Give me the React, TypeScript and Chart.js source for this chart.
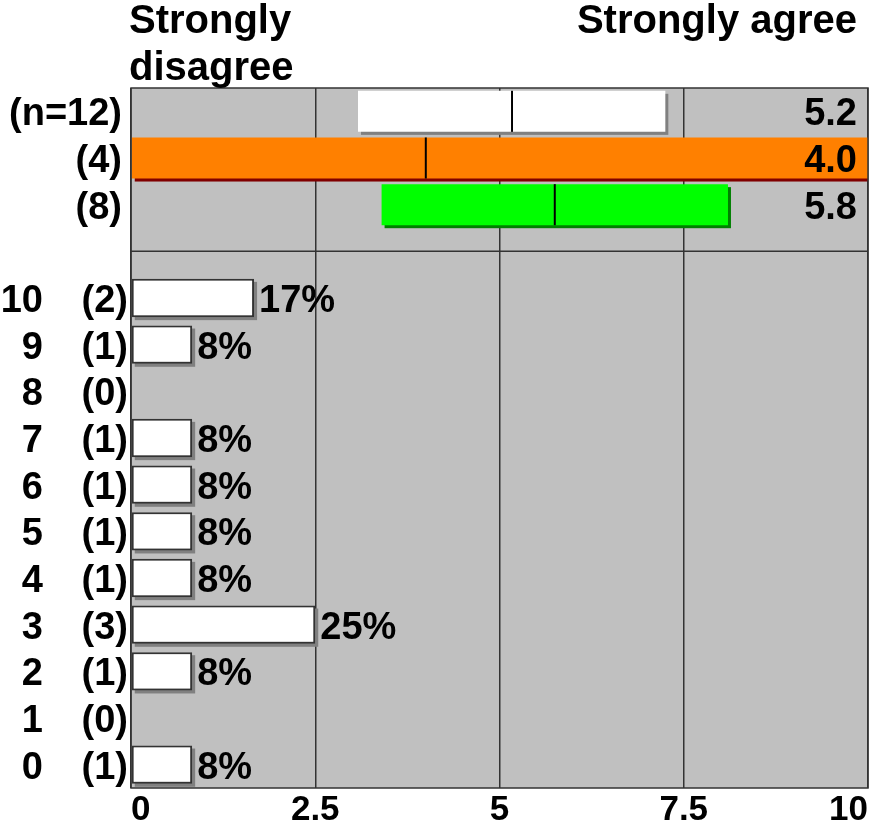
import React, { useEffect, useRef } from "react";
import { Chart, registerables } from "chart.js";

Chart.register(...registerables);

// ---- data ----
const groupLabels = ["(n=12)", "(4)", "(8)"];
const groupLow = [3.08, 0, 3.4];
const groupHigh = [7.25, 10, 8.1];
const groupMean = [5.17, 4.0, 5.75];
const groupMeanText = ["5.2", "4.0", "5.8"];
const groupColors = ["#ffffff", "#ff8000", "#00ff00"];
const groupShadows = ["#808080", "#800000", "#008000"];

const scaleValues = ["10", "9", "8", "7", "6", "5", "4", "3", "2", "1", "0"];
const scaleCounts = [2, 1, 0, 1, 1, 1, 1, 3, 1, 0, 1];
const scalePercents = [16.7, 8.3, 0, 8.3, 8.3, 8.3, 8.3, 25, 8.3, 0, 8.3];
const percentLabels = ["17%", "8%", "", "8%", "8%", "8%", "8%", "25%", "8%", "", "8%"];

const xMin = 0;
const xMax = 10;
const xStep = 2.5;
const leftTitle = ["Strongly", "disagree"];
const rightTitle = "Strongly agree";

const FONT = '"Liberation Sans", Arial, sans-serif';
const nGroups = groupLabels.length;
const rowLabels = [...groupLabels, "", ...scaleValues];
const dividerIndex = nGroups;
const histStart = nGroups + 1;

const groupData = rowLabels.map((_, i) =>
  i < nGroups ? [groupLow[i], groupHigh[i]] : null
);
const histData = rowLabels.map((_, i) => {
  if (i < histStart) return null;
  const p = scalePercents[i - histStart];
  return p > 0 ? [0, p / 10] : null;
});

const shadowPlugin = {
  id: "shadows",
  beforeDatasetsDraw(chart: any) {
    const { ctx, chartArea, scales } = chart;
    ctx.save();
    ctx.beginPath();
    ctx.rect(chartArea.left, chartArea.top, chartArea.width, chartArea.height);
    ctx.clip();
    // divider line
    const yDiv = scales.y.getPixelForValue(dividerIndex);
    ctx.strokeStyle = "#333";
    ctx.lineWidth = 1.5;
    ctx.beginPath();
    ctx.moveTo(chartArea.left, yDiv);
    ctx.lineTo(chartArea.right, yDiv);
    ctx.stroke();
    const off = 3;
    chart.data.datasets.forEach((ds: any, di: number) => {
      const meta = chart.getDatasetMeta(di);
      meta.data.forEach((el: any, i: number) => {
        if (ds.data[i] == null) return;
        const { x, y, base, height } = el.getProps(["x", "y", "base", "height"], true);
        const l = Math.min(x, base);
        const r = Math.max(x, base);
        ctx.fillStyle = di === 0 ? groupShadows[i] : "#808080";
        ctx.fillRect(l + off, y - height / 2 + off, r - l, height);
      });
    });
    ctx.restore();
  },
  afterDatasetsDraw(chart: any) {
    const { ctx, chartArea, scales } = chart;
    const xs = scales.x;
    const ys = scales.y;
    const meta0 = chart.getDatasetMeta(0);
    ctx.save();
    // mean lines
    ctx.strokeStyle = "#000";
    ctx.lineWidth = 2;
    for (let i = 0; i < nGroups; i++) {
      const el: any = meta0.data[i];
      const { y, height } = el.getProps(["y", "height"], true);
      const px = xs.getPixelForValue(groupMean[i]);
      ctx.beginPath();
      ctx.moveTo(px, y - height / 2);
      ctx.lineTo(px, y + height / 2);
      ctx.stroke();
    }
    ctx.fillStyle = "#000";
    ctx.font = `bold 38px ${FONT}`;
    ctx.textBaseline = "alphabetic";
    // right mean values
    ctx.textAlign = "right";
    for (let i = 0; i < nGroups; i++) {
      const cy = ys.getPixelForValue(i);
      ctx.fillText(groupMeanText[i], chartArea.right - 11, cy + 14);
    }
    // left group labels
    for (let i = 0; i < nGroups; i++) {
      const cy = ys.getPixelForValue(i);
      ctx.fillText(groupLabels[i], chartArea.left - 9, cy + 14);
    }
    // histogram rows
    const meta1 = chart.getDatasetMeta(1);
    for (let k = 0; k < scaleValues.length; k++) {
      const idx = histStart + k;
      const cy = ys.getPixelForValue(idx);
      ctx.textAlign = "right";
      ctx.fillText(scaleValues[k], 43, cy + 14);
      ctx.fillText(`(${scaleCounts[k]})`, chartArea.left - 3, cy + 14);
      if (percentLabels[k]) {
        const el: any = meta1.data[idx];
        const { x } = el.getProps(["x"], true);
        ctx.textAlign = "left";
        ctx.fillText(percentLabels[k], x + 5, cy + 14);
      }
    }
    ctx.restore();
  },
  afterDraw(chart: any) {
    const { ctx, chartArea } = chart;
    ctx.save();
    ctx.strokeStyle = "#333";
    ctx.lineWidth = 1.5;
    ctx.strokeRect(chartArea.left, chartArea.top, chartArea.width, chartArea.height);
    ctx.fillStyle = "#000";
    ctx.font = `bold 40px ${FONT}`;
    ctx.textBaseline = "alphabetic";
    ctx.textAlign = "left";
    ctx.fillText(leftTitle[0], chartArea.left - 2, 33);
    ctx.fillText(leftTitle[1], chartArea.left - 2, 80);
    ctx.textAlign = "right";
    ctx.fillText(rightTitle, chartArea.right - 11, 33);
    ctx.restore();
  },
  beforeDraw(chart: any) {
    const { ctx, chartArea } = chart;
    ctx.save();
    ctx.fillStyle = "#ffffff";
    ctx.fillRect(0, 0, chart.width, chart.height);
    ctx.fillStyle = "#c0c0c0";
    ctx.fillRect(chartArea.left, chartArea.top, chartArea.width, chartArea.height);
    ctx.restore();
  },
};

export default function App() {
  const ref = useRef<HTMLCanvasElement>(null);
  useEffect(() => {
    const chart = new Chart(ref.current as HTMLCanvasElement, {
      type: "bar",
      data: {
        labels: rowLabels,
        datasets: [
          {
            data: groupData as any,
            backgroundColor: rowLabels.map((_, i) => (i < nGroups ? groupColors[i] : "#fff")),
            borderWidth: 0,
            barPercentage: 0.88,
            categoryPercentage: 1,
            grouped: false,
          } as any,
          {
            data: histData as any,
            backgroundColor: "#ffffff",
            borderColor: "#333333",
            borderWidth: 2,
            borderSkipped: false,
            barPercentage: 0.82,
            categoryPercentage: 1,
            grouped: false,
          } as any,
        ],
      },
      options: {
        indexAxis: "y",
        animation: false,
        responsive: false,
        devicePixelRatio: 1,
        layout: { padding: { left: 131, right: 1, top: 88, bottom: 0 } },
        plugins: { legend: { display: false }, tooltip: { enabled: false } },
        scales: {
          y: { type: "category", display: false, offset: true },
          x: {
            type: "linear",
            min: xMin,
            max: xMax,
            ticks: {
              stepSize: xStep,
              align: "inner",
              padding: 1,
              color: "#000",
              font: { family: FONT, size: 35, weight: "bold" },
            },
            grid: { color: "#333", lineWidth: 1.5, drawTicks: false },
            border: { display: false },
            afterFit: (s: any) => {
              s.height = 37;
            },
          } as any,
        },
      },
      plugins: [shadowPlugin],
    });
    return () => chart.destroy();
  }, []);
  return (
    <div style={{ position: "fixed", left: 0, top: 0, width: 869, height: 825, background: "#fff" }}>
      <canvas ref={ref} width={869} height={825} style={{ width: 869, height: 825, display: "block" }} />
    </div>
  );
}
